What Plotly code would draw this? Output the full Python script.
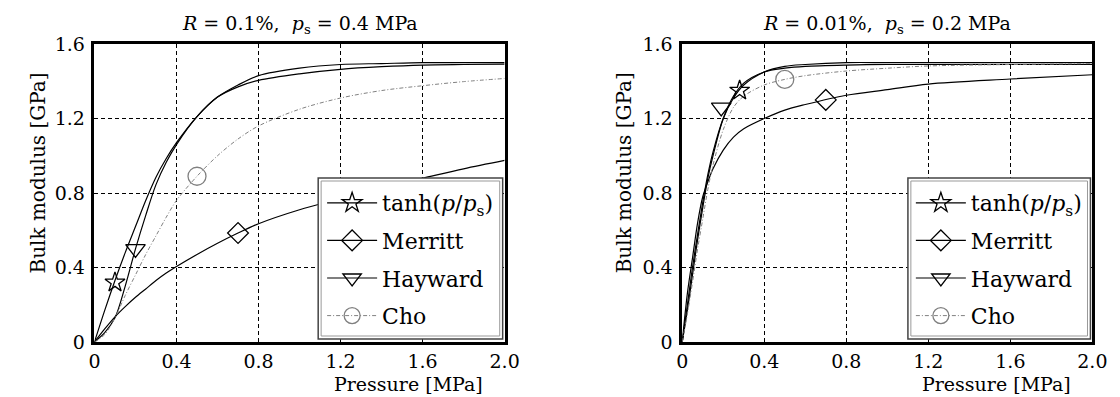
import plotly.graph_objects as go

# ---------------- data ----------------
# Left panel: R = 0.1 %, p_s = 0.4 MPa
p_left = [0, 0.05, 0.1, 0.15, 0.2, 0.25, 0.3, 0.35, 0.4, 0.5, 0.6, 0.7, 0.8, 1.0, 1.2, 1.4, 1.6, 1.8, 2.0]
tanh_left = [0, 0.17, 0.33, 0.48, 0.62, 0.76, 0.885, 0.985, 1.07, 1.21, 1.315, 1.38, 1.43, 1.47, 1.49, 1.495, 1.50, 1.50, 1.50]
merritt_left = [0, 0.07, 0.135, 0.19, 0.24, 0.285, 0.33, 0.37, 0.405, 0.47, 0.53, 0.585, 0.635, 0.71, 0.77, 0.83, 0.88, 0.93, 0.975]
hayward_left = [0, 0.05, 0.13, 0.3, 0.5, 0.68, 0.845, 0.965, 1.06, 1.21, 1.315, 1.37, 1.405, 1.44, 1.464, 1.478, 1.487, 1.49, 1.492]
cho_left = [0, 0.04, 0.13, 0.25, 0.36, 0.47, 0.57, 0.67, 0.76, 0.89, 1.0, 1.09, 1.16, 1.25, 1.31, 1.35, 1.376, 1.398, 1.415]

# Right panel: R = 0.01 %, p_s = 0.2 MPa
p_right = [0, 0.025, 0.05, 0.075, 0.1, 0.125, 0.15, 0.2, 0.25, 0.3, 0.4, 0.5, 0.6, 0.8, 1.0, 1.2, 1.6, 2.0]
tanh_right = [0, 0.2, 0.4, 0.58, 0.75, 0.9, 1.02, 1.2, 1.31, 1.38, 1.45, 1.48, 1.49, 1.5, 1.5, 1.5, 1.5, 1.5]
merritt_right = [0, 0.26, 0.45, 0.64, 0.78, 0.86, 0.93, 1.03, 1.10, 1.145, 1.2, 1.245, 1.275, 1.325, 1.355, 1.385, 1.412, 1.435]
hayward_right = [0, 0.17, 0.36, 0.55, 0.72, 0.88, 1.0, 1.2, 1.32, 1.39, 1.45, 1.47, 1.48, 1.487, 1.49, 1.49, 1.49, 1.49]
cho_right = [0, 0.15, 0.32, 0.5, 0.66, 0.82, 0.95, 1.14, 1.26, 1.32, 1.38, 1.41, 1.43, 1.455, 1.47, 1.482, 1.49, 1.495]

# single marker positions for each curve
mark_left = {"tanh": (0.1, 0.32), "merritt": (0.7, 0.585), "hayward": (0.2, 0.5), "cho": (0.5, 0.89)}
mark_right = {"tanh": (0.28, 1.35), "merritt": (0.7, 1.30), "hayward": (0.19, 1.26), "cho": (0.5, 1.41)}

series_names = ["tanh", "merritt", "hayward", "cho"]
legend_labels = {
    "tanh": "tanh(<i>p</i>/<i>p</i><sub>s</sub>)",
    "merritt": "Merritt",
    "hayward": "Hayward",
    "cho": "Cho",
}
titles = ["<i>R</i> = 0.1%,  <i>p</i><sub>s</sub> = 0.4 MPa",
          "<i>R</i> = 0.01%,  <i>p</i><sub>s</sub> = 0.2 MPa"]
x_ticks = [0, 0.4, 0.8, 1.2, 1.6, 2.0]
x_ticktext = ["0", "0.4", "0.8", "1.2", "1.6", "2.0"]
y_ticks = [0, 0.4, 0.8, 1.2, 1.6]
y_ticktext = ["0", "0.4", "0.8", "1.2", "1.6"]

# ---------------- styling ----------------
W, H = 1120, 397
FONT = "DejaVu Serif"
styles = {
    "tanh": dict(line=dict(color="black", width=1.2), symbol="star-open", size=15, mcolor="black"),
    "merritt": dict(line=dict(color="black", width=1.2), symbol="diamond-open", size=16, mcolor="black"),
    "hayward": dict(line=dict(color="black", width=1.2), symbol="triangle-down-open", size=17, mcolor="black"),
    "cho": dict(line=dict(color="#808080", width=1, dash="4px,2px,1px,2px"), symbol="circle-open", size=18, mcolor="#808080"),
}

# pixel layout
plot_top, plot_bottom = 36, 334
left_dom = (82, 500)
right_dom = (681, 1099)

def px_x(v):
    return v / W

def px_y(v):
    return (plot_bottom - v) / (plot_bottom - plot_top)

fig = go.Figure()

panels = [
    ("x", "y", "legend", p_left,
     {"tanh": tanh_left, "merritt": merritt_left, "hayward": hayward_left, "cho": cho_left}, mark_left),
    ("x2", "y2", "legend2", p_right,
     {"tanh": tanh_right, "merritt": merritt_right, "hayward": hayward_right, "cho": cho_right}, mark_right),
]

for xa, ya, lg, pvals, curves, marks in panels:
    for name in series_names:
        st = styles[name]
        fig.add_trace(go.Scatter(
            x=pvals, y=curves[name], xaxis=xa, yaxis=ya, mode="lines",
            line=dict(st["line"], shape="spline", smoothing=0.9),
            showlegend=False, hoverinfo="skip"))
    for name in series_names:
        st = styles[name]
        mx, my = marks[name]
        fig.add_trace(go.Scatter(
            x=[mx], y=[my], xaxis=xa, yaxis=ya, mode="lines+markers",
            line=st["line"],
            marker=dict(symbol=st["symbol"], size=st["size"],
                        color=st["mcolor"], line=dict(width=1.3, color=st["mcolor"])),
            name=legend_labels[name], legend=lg, legendgroup=lg + name,
            showlegend=True))

axis_common = dict(
    showline=True, linecolor="black", linewidth=2.5, mirror=True,
    showgrid=True, gridcolor="black", gridwidth=1, griddash="4px,3px",
    zeroline=False, ticks="", tickfont=dict(family=FONT, size=19, color="black"),
)

fig.update_layout(
    width=W, height=H,
    margin=dict(l=0, r=0, t=plot_top, b=H - plot_bottom),
    paper_bgcolor="white", plot_bgcolor="white",
    font=dict(family=FONT, color="black"),
    xaxis=dict(axis_common, domain=[px_x(left_dom[0]), px_x(left_dom[1])], range=[0, 2.0],
               tickvals=x_ticks, ticktext=x_ticktext, anchor="y", ticklabelstandoff=0),
    yaxis=dict(axis_common, domain=[0, 1], range=[0, 1.6],
               tickvals=y_ticks, ticktext=y_ticktext, anchor="x", ticklabelstandoff=3),
    xaxis2=dict(axis_common, domain=[px_x(right_dom[0]), px_x(right_dom[1])], range=[0, 2.0],
                tickvals=x_ticks, ticktext=x_ticktext, anchor="y2", ticklabelstandoff=0),
    yaxis2=dict(axis_common, domain=[0, 1], range=[0, 1.6],
                tickvals=y_ticks, ticktext=y_ticktext, anchor="x2", ticklabelstandoff=3),
)

legend_common = dict(
    bgcolor="rgba(0,0,0,0)", borderwidth=0,
    font=dict(family=FONT, size=22, color="black"),
    xanchor="left", yanchor="top", tracegroupgap=6, itemwidth=50,
    traceorder="grouped",
)
fig.update_layout(
    legend=dict(legend_common, x=px_x(314), y=px_y(174)),
    legend2=dict(legend_common, x=px_x(914), y=px_y(174)),
)

# legend frames (double line) and white background covering the grid
for (bx0, bx1) in [(310, 498), (911, 1097)]:
    fig.add_shape(type="rect", xref="paper", yref="paper",
                  x0=px_x(bx0), x1=px_x(bx1), y0=px_y(331), y1=px_y(170),
                  line=dict(color="#444444", width=1.5), fillcolor="white", layer="above")
    fig.add_shape(type="rect", xref="paper", yref="paper",
                  x0=px_x(bx0 + 3), x1=px_x(bx1 - 3), y0=px_y(328), y1=px_y(173),
                  line=dict(color="#999999", width=1), fillcolor="rgba(0,0,0,0)", layer="above")

# titles and axis titles
for dom, title in zip([left_dom, right_dom], titles):
    cx = (dom[0] + dom[1]) / 2
    fig.add_annotation(text=title, xref="paper", yref="paper", x=px_x(cx), y=px_y(16),
                       xanchor="center", yanchor="middle", showarrow=False,
                       font=dict(family=FONT, size=19, color="black"))

for xa in ["x", "x2"]:
    fig.add_annotation(text="Pressure [MPa]", xref=xa, yref="paper", x=1.53, y=px_y(376),
                       xanchor="center", yanchor="middle", showarrow=False,
                       font=dict(family=FONT, size=19, color="black"),
                       borderpad=0)

for cx in [24, 622]:
    fig.add_annotation(text="Bulk modulus [GPa]", xref="paper", yref="paper", x=px_x(cx), y=px_y(165),
                       xanchor="center", yanchor="middle", textangle=-90, showarrow=False,
                       font=dict(family=FONT, size=20, color="black"))

fig.write_html("out.html")
